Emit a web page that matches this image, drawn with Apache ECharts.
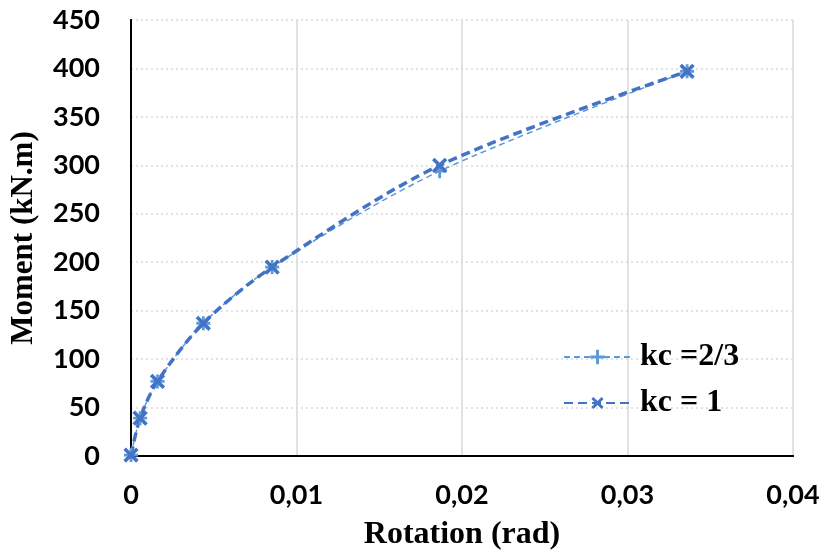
<!DOCTYPE html>
<html>
<head>
<meta charset="utf-8">
<script src="https://cdn.jsdelivr.net/npm/echarts@6/dist/echarts.min.js"></script>
<style>html,body{margin:0;padding:0;background:#fff}#c{width:827px;height:556px}</style>
</head>
<body>
<div id="c"></div>
<script>
// Data
const rotation = [0, 0.00055, 0.0016, 0.00437, 0.00853, 0.01865, 0.0336];
const momentKc23 = [1, 39, 77, 137, 195, 294, 397];
const momentKc1 = [1, 39, 77, 137, 195, 300, 397];
const seriesNames = ['kc =2/3', 'kc = 1'];
const xTicks = [0, 0.01, 0.02, 0.03, 0.04];
const yTicks = [0, 50, 100, 150, 200, 250, 300, 350, 400, 450];

const pair = (xs, ys) => xs.map((x, i) => [x, ys[i]]);
const plusPath = 'path://M4,0h2v4h4v2h-4v4h-2v-4h-4v-2h4z';
const xMin = xTicks[0], xMax = xTicks[xTicks.length - 1];
const yMin = yTicks[0], yMax = yTicks[yTicks.length - 1];

const chart = echarts.init(document.getElementById('c'));
chart.setOption({
  animation: false,
  backgroundColor: '#fff',
  grid: { left: 131, top: 20, right: 34, bottom: 98 },
  xAxis: [{
    type: 'value', min: xMin, max: xMax, interval: 0.01,
    name: 'Rotation (rad)', nameLocation: 'middle', nameGap: 63,
    nameTextStyle: { fontFamily: 'Liberation Serif', fontWeight: 'bold', fontSize: 32, color: '#000' },
    axisLine: { lineStyle: { color: '#000', width: 2 } },
    axisTick: { show: false },
    splitLine: { show: true, lineStyle: { color: '#d9d9d9', width: 1.5 } },
    axisLabel: { margin: 26, fontFamily: 'Lato', fontWeight: 'bold', fontSize: 27, color: '#000',
      formatter: v => v === 0 ? '0' : v.toFixed(2).replace('.', ',') }
  }, {
    type: 'value', position: 'top', min: xMin, max: xMax, interval: 0.01,
    axisLine: { show: true, lineStyle: { color: '#000', width: 2 } },
    axisTick: { show: false }, axisLabel: { show: false }, splitLine: { show: false }
  }],
  yAxis: [{
    type: 'value', min: yMin, max: yMax, interval: 50,
    name: 'Moment (kN.m)', nameLocation: 'middle', nameGap: 92,
    nameTextStyle: { fontFamily: 'Liberation Serif', fontWeight: 'bold', fontSize: 31, color: '#000' },
    axisLine: { show: true, lineStyle: { color: '#000', width: 2 } },
    axisTick: { show: false },
    splitLine: { show: true, lineStyle: { color: '#d9d9d9', width: 1.5, type: [2, 3] } },
    axisLabel: { margin: 31, fontFamily: 'Lato', fontWeight: 'bold', fontSize: 27, color: '#000' }
  }, {
    type: 'value', position: 'right', min: yMin, max: yMax, interval: 50,
    axisLine: { show: true, lineStyle: { color: '#000', width: 2 } },
    axisTick: { show: false }, axisLabel: { show: false }, splitLine: { show: false }
  }],
  legend: {
    orient: 'vertical', left: 558, top: 336, itemWidth: 67, itemHeight: 18, itemGap: 14,
    data: seriesNames,
    textStyle: { fontFamily: 'Liberation Serif', fontWeight: 'bold', fontSize: 32, color: '#000', lineHeight: 32, padding: [0, 0, 0, 4] }
  },
  series: [
    {
      name: seriesNames[0], type: 'line', smooth: 0.3, data: pair(rotation, momentKc23),
      symbol: plusPath, symbolSize: 14, symbolKeepAspect: true,
      itemStyle: { color: '#5B9BD5' },
      lineStyle: { color: '#5B9BD5', width: 1.5, type: [6, 4] }
    },
    {
      name: seriesNames[1], type: 'line', smooth: 0.3, data: pair(rotation, momentKc1),
      symbol: plusPath, symbolSize: 18, symbolRotate: 45, symbolKeepAspect: true,
      itemStyle: { color: '#4472C4' },
      lineStyle: { color: '#4472C4', width: 3.5, type: [9, 5] }
    }
  ]
});
</script>
</body>
</html>
